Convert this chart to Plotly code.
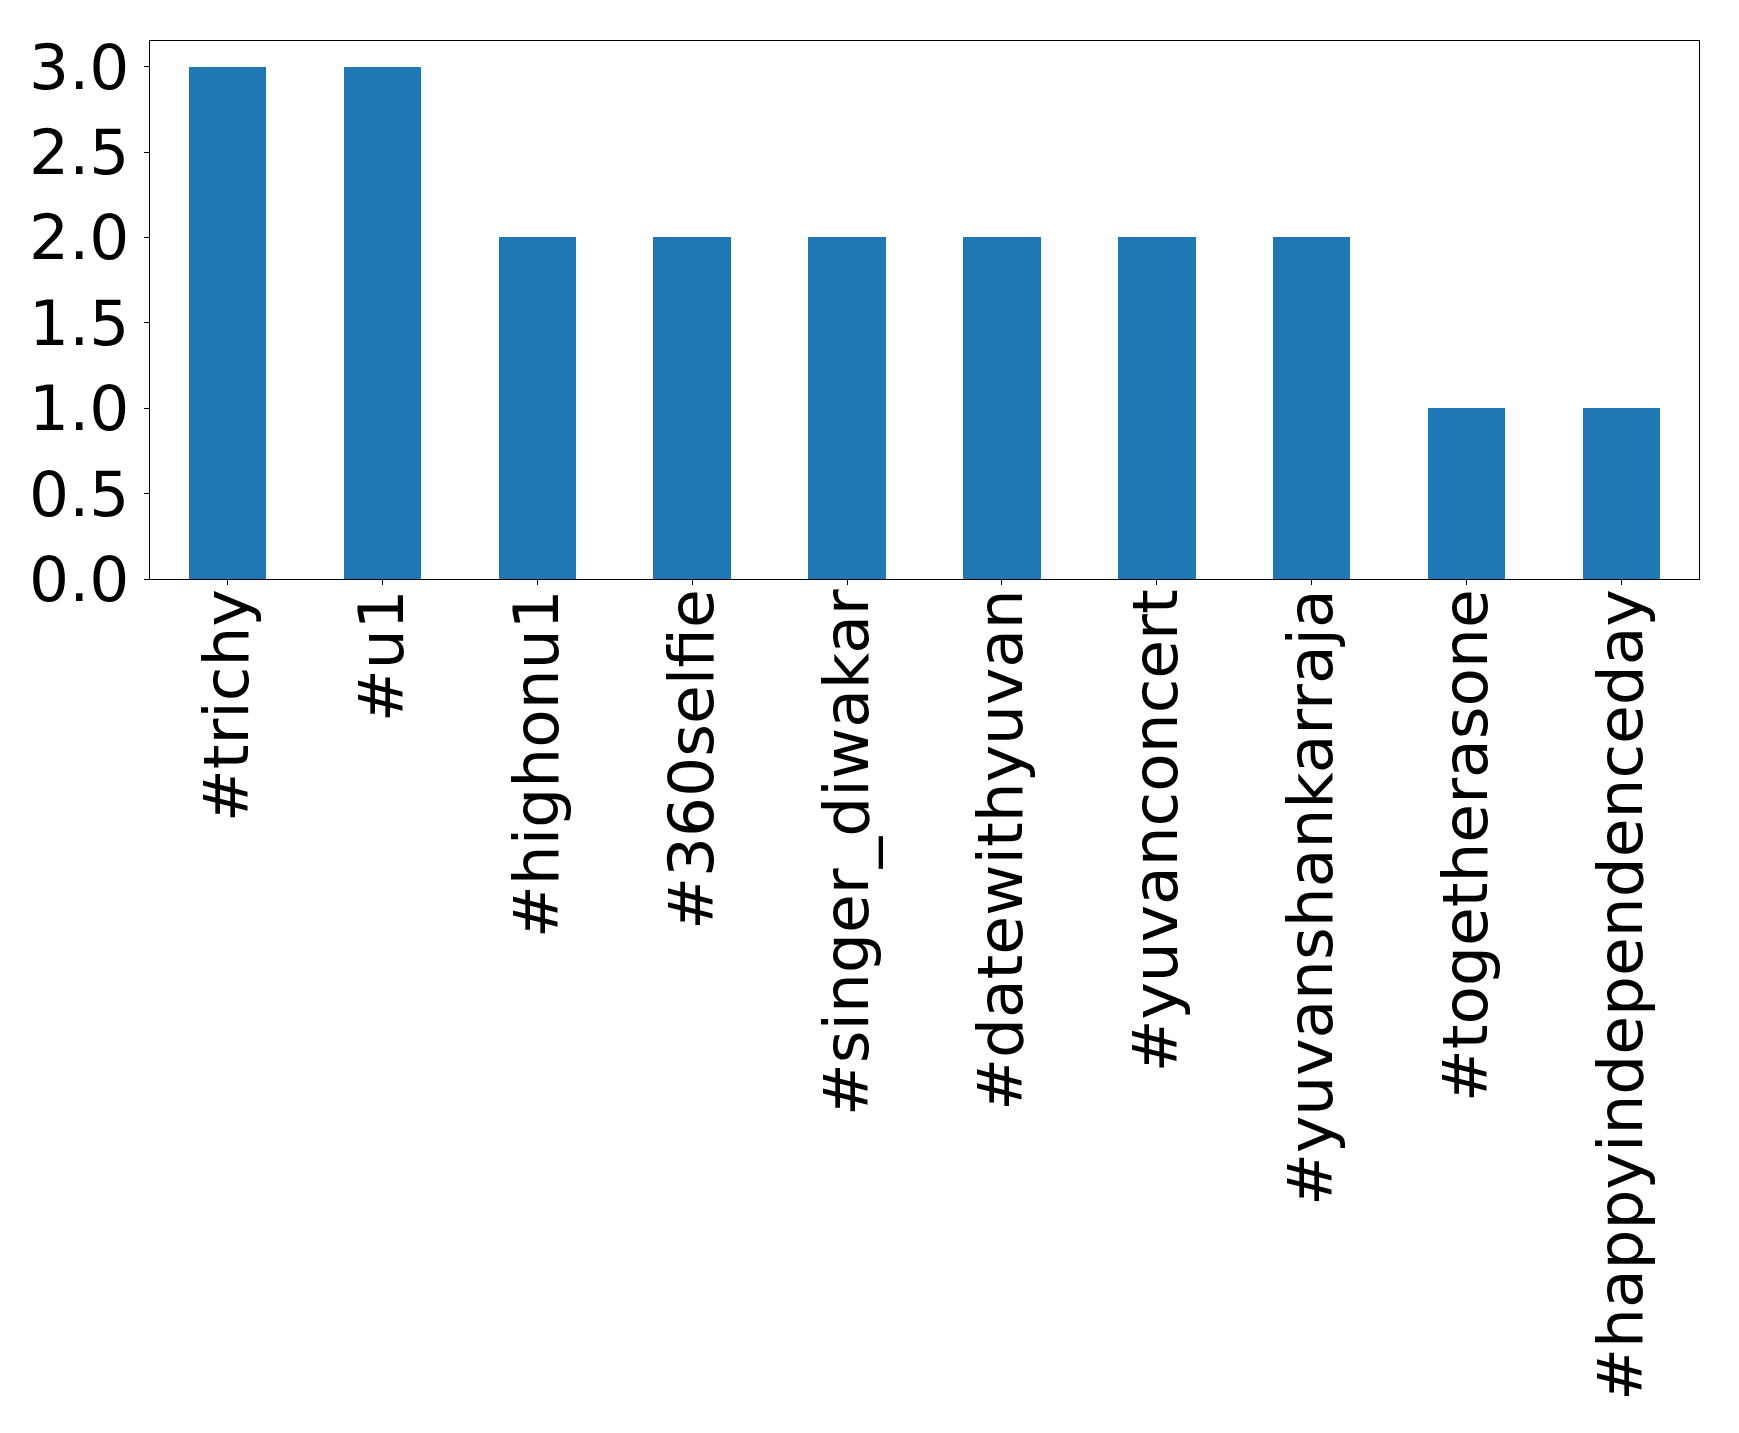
import plotly.graph_objects as go

categories = ["#trichy", "#u1", "#highonu1", "#360selfie", "#singer_diwakar",
              "#datewithyuvan", "#yuvanconcert", "#yuvanshankarraja",
              "#togetherasone", "#happyindependenceday"]
values = [3, 3, 2, 2, 2, 2, 2, 2, 1, 1]
y_ticks = [0.0, 0.5, 1.0, 1.5, 2.0, 2.5, 3.0]
y_tick_labels = ["0.0", "0.5", "1.0", "1.5", "2.0", "2.5", "3.0"]

fig = go.Figure(go.Bar(x=list(range(len(categories))), y=values, width=0.5,
                       marker=dict(color="#1f77b4", line=dict(width=0))))

font = dict(family="DejaVu Sans", size=63, color="black")
fig.update_layout(
    width=1723, height=1417,
    margin=dict(l=141.5, r=31.5, t=32.5, b=845.5, autoexpand=False),
    paper_bgcolor="white", plot_bgcolor="white",
    showlegend=False, bargap=0,
)
fig.update_xaxes(range=[-0.5, 9.5], tickmode="array",
                 tickvals=list(range(len(categories))), ticktext=categories,
                 tickangle=-90, tickfont=font, ticks="outside", ticklen=5,
                 tickcolor="black", showline=True, linecolor="black",
                 linewidth=1.2, mirror=True, showgrid=False, zeroline=False,
                 automargin=False, ticklabelstandoff=-21)
fig.update_yaxes(range=[0, 3.15], tickmode="array", tickvals=y_ticks,
                 ticktext=y_tick_labels, tickfont=font, ticks="outside",
                 ticklen=5, tickcolor="black", showline=True,
                 linecolor="black", linewidth=1.2, mirror=True,
                 showgrid=False, zeroline=False, automargin=False,
                 ticklabelstandoff=2)

fig.write_html("out.html")
